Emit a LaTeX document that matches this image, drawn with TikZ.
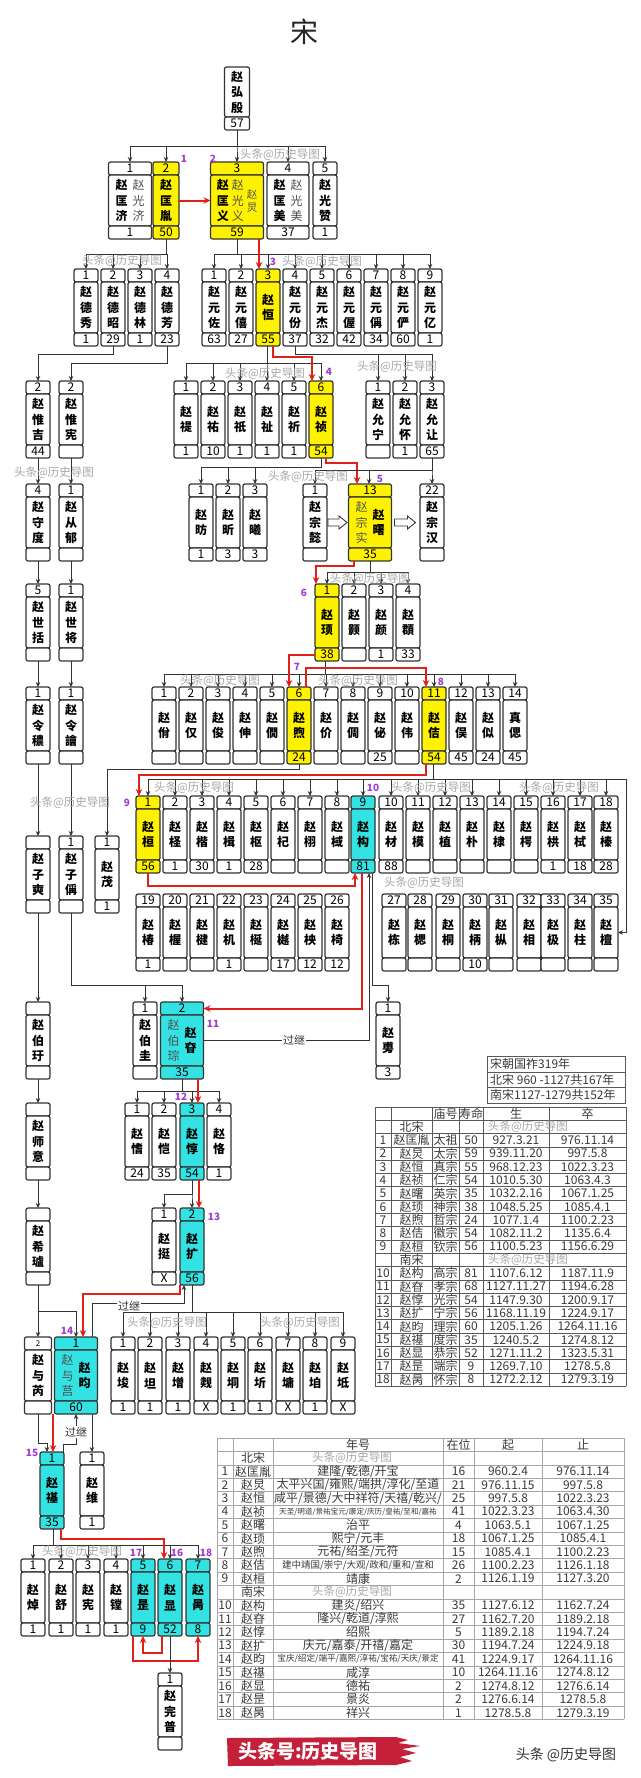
\documentclass[tikz,border=0pt]{standalone}
\usepackage{fontspec}
\setmainfont{Noto Sans CJK SC}
\usetikzlibrary{arrows.meta,calc}
\definecolor{yel}{HTML}{FFF200}
\definecolor{cya}{HTML}{33E3E3}
\definecolor{bd}{HTML}{333333}
\definecolor{rd}{HTML}{E0201B}
\definecolor{pur}{HTML}{A23BD1}
\definecolor{wmk}{HTML}{A8A8A8}
\definecolor{alt}{HTML}{505050}
\definecolor{tcol}{HTML}{3A3A3A}
\definecolor{brush}{HTML}{C4203A}
\makeatletter
\newcommand\vnskip{15.5pt}
\newcommand\vnm[1]{\edef\vnm@tmp{#1}\expandafter\vnm@b\expandafter{\vnm@tmp}}
\newcommand\vnm@b[1]{$\vcenter{\baselineskip=\vnskip\lineskiplimit=-20pt\lineskip=0pt\vnm@a#1\relax}$}
\def\vnm@a#1{\ifx\relax#1\else\hbox{#1}\expandafter\vnm@a\fi}
\makeatother
\newcommand\anm[1]{{\color{alt}\mdseries\vnm{#1}}}
\newcommand\anms[1]{{\color{alt}\mdseries\fontsize{10.5}{12}\selectfont\def\vnskip{13pt}\vnm{#1}}}
\tikzset{
 tbox/.style={draw=bd, line width=1.2pt, rounded corners=2pt, inner sep=0pt, outer sep=0pt, minimum height=13pt, font=\fontsize{12}{14}\selectfont, anchor=north},
 nbox/.style={draw=bd, line width=1.2pt, rounded corners=2pt, inner sep=0pt, outer sep=0pt, minimum height=51pt, font=\fontsize{12}{15.5}\selectfont\bfseries, anchor=north},
 ln/.style={draw=bd, line width=0.9pt, -{Stealth[length=5pt,width=4.5pt]}},
 rl/.style={draw=rd, line width=2pt, -{Stealth[length=7pt,width=6.5pt]}},
 pl/.style={text=pur, font=\fontsize{10}{12}\selectfont\bfseries, inner sep=0pt},
 wm/.style={text=wmk, font=\fontsize{11.5}{12}\selectfont, inner sep=0pt},
 gj/.style={fill=white, inner sep=1pt, font=\fontsize{11}{12}\selectfont, text=bd},
 hol/.style={draw=bd, line width=0.9pt, fill=white},
 tt/.style={text=tcol, font=\fontsize{12}{13}\selectfont, inner sep=0pt},
 g1/.style={draw=black!65, line width=0.7pt},
 g2/.style={draw=black!35, line width=0.6pt},
}
\newcommand\psn[8]{%
 \node[tbox, fill=#5, minimum width=#4pt] (#1-t) at (#2,#3) {#6};
 \node[nbox, fill=#5, minimum width=#4pt] (#1) at (#1-t.south) {#7};
 \node[tbox, fill=#5, minimum width=#4pt] (#1-b) at (#1.south) {#8};}
\newcommand\kids[3]{\foreach \kk in {#3}{\draw[ln] (#1) |- ([yshift=#2pt]\kk-t.north) -- (\kk-t.north);}}
\newcommand\trA[7]{%
 \pgfmathsetmacro\yy{1107+13.3*(#1+0.5)}%
 \node[tt] (ta#2a) at (383,\yy) {#2};
 \node[tt] (ta#2b) at (411.5,\yy) {#3};
 \node[tt] (ta#2c) at (445.5,\yy) {#4};
 \node[tt] (ta#2d) at (471,\yy) {#5};
 \node[tt] (ta#2e) at (516,\yy) {#6};
 \node[tt] (ta#2f) at (587.5,\yy) {#7};}
\newcommand\trB[7]{%
 \pgfmathsetmacro\yy{1438+13.4*(#1+0.5)}%
 \node[tt] (tb#2a) at (225,\yy) {#2};
 \node[tt] (tb#2b) at (253,\yy) {#3};
 \node[tt] (tb#2c) at (358,\yy) {#4};
 \node[tt] (tb#2d) at (458.5,\yy) {#5};
 \node[tt] (tb#2e) at (508,\yy) {#6};
 \node[tt] (tb#2f) at (583,\yy) {#7};}
\begin{document}
\begin{tikzpicture}[x=1pt,y=-1pt]
\useasboundingbox (0,0) rectangle (640,1778);
\fill[white] (0,0) rectangle (640,1778);
\node[inner sep=0pt, font=\fontsize{28}{30}\selectfont, text=black!85] (title) at (304,32) {宋};

% generation 1
\node[nbox, fill=white, minimum width=25pt, minimum height=50pt] (hy) at (237,67) {\vnm{赵弘殷}};
\node[tbox, fill=white, minimum width=25pt] (hy-b) at (hy.south) {57};

% generation 2
\psn{g2a}{130}{162}{43}{white}{1}{\vnm{赵匡济}\hspace{5pt}\anm{赵光济}}{1}
\psn{g2b}{166}{162}{26}{yel}{2}{\vnm{赵匡胤}}{50}
\psn{g2c}{237}{162}{53}{yel}{3}{\vnm{赵匡义}\hspace{3pt}\anm{赵光义}\hspace{3pt}\anms{赵炅}}{59}
\psn{g2d}{288}{162}{42}{white}{4}{\vnm{赵匡美}\hspace{5pt}\anm{赵光美}}{37}
\psn{g2e}{325}{162}{24}{white}{5}{\vnm{赵光赞}}{1}
\kids{hy-b.south}{16}{g2a,g2b,g2c,g2d,g2e}
\draw[rl] (g2b.east) -- (g2c.west);

% generation 3
\psn{dx}{86}{269}{24}{white}{1}{\vnm{赵德秀}}{1}
\psn{dz}{113}{269}{24}{white}{2}{\vnm{赵德昭}}{29}
\psn{dl}{140}{269}{24}{white}{3}{\vnm{赵德林}}{1}
\psn{df}{167}{269}{24}{white}{4}{\vnm{赵德芳}}{23}
\psn{yz}{214}{269}{24}{white}{1}{\vnm{赵元佐}}{63}
\psn{yx}{241}{269}{24}{white}{2}{\vnm{赵元僖}}{27}
\psn{hg}{268}{269}{24}{yel}{3}{\vnm{赵恒}}{55}
\psn{yf}{295}{269}{24}{white}{4}{\vnm{赵元份}}{37}
\psn{yj}{322}{269}{24}{white}{5}{\vnm{赵元杰}}{32}
\psn{yw}{349}{269}{24}{white}{6}{\vnm{赵元偓}}{42}
\psn{yc}{376}{269}{24}{white}{7}{\vnm{赵元偁}}{34}
\psn{yy}{403}{269}{24}{white}{8}{\vnm{赵元俨}}{60}
\psn{yi}{430}{269}{24}{white}{9}{\vnm{赵元亿}}{1}
\kids{g2b-b.south}{15}{dx,dz,dl,df}
\kids{g2c-b.south}{15}{yz,yx,hg,yf,yj,yw,yc,yy,yi}
\draw[rl] ([xshift=22pt]g2c-b.south) -- ([xshift=-9pt]hg-t.north);

% generation 4
\psn{wj}{38}{381}{24}{white}{2}{\vnm{赵惟吉}}{44}
\psn{wx}{71}{381}{24}{white}{2}{\vnm{赵惟宪}}{}
\psn{ti}{186}{381}{24}{white}{1}{\vnm{赵禔}}{1}
\psn{yo}{213}{381}{24}{white}{2}{\vnm{赵祐}}{10}
\psn{qz}{240}{381}{24}{white}{3}{\vnm{赵祇}}{1}
\psn{zhi}{267}{381}{24}{white}{4}{\vnm{赵祉}}{1}
\psn{xq}{294}{381}{24}{white}{5}{\vnm{赵祈}}{1}
\psn{zz}{321}{381}{24}{yel}{6}{\vnm{赵祯}}{54}
\psn{yn}{378}{381}{24}{white}{1}{\vnm{赵允宁}}{}
\psn{yh}{405}{381}{24}{white}{2}{\vnm{赵允怀}}{1}
\psn{yrang}{432}{381}{24}{white}{3}{\vnm{赵允让}}{65}
\draw[ln] (dz-b.south) |- ([yshift=27pt]wj-t.north) -- (wj-t.north);
\draw[ln] (df-b.south) |- ([yshift=18pt]wx-t.north) -- (wx-t.north);
\kids{[xshift=-1pt]hg-b.south}{18}{ti,yo,qz,zhi,xq,zz}
\draw[rl] ([xshift=5pt]hg-b.south) |- ([xshift=-9pt,yshift=24pt]zz-t.north) -- ([xshift=-9pt]zz-t.north);
\kids{yf-b.south}{27}{yn,yh,yrang}

% generation 5
\psn{sd}{38}{484}{24}{white}{4}{\vnm{赵守度}}{}
\psn{cy}{71}{484}{24}{white}{1}{\vnm{赵从郁}}{}
\psn{fa}{201}{484}{24}{white}{1}{\vnm{赵昉}}{1}
\psn{xin}{228}{484}{24}{white}{2}{\vnm{赵昕}}{3}
\psn{xx}{255}{484}{24}{white}{3}{\vnm{赵曦}}{3}
\psn{zy}{315}{484}{24}{white}{1}{\vnm{赵宗懿}}{}
\psn{shu}{370}{484}{43}{yel}{13}{\anm{赵宗实}\hspace{5pt}\vnm{赵曙}}{35}
\psn{zh}{432}{484}{24}{white}{22}{\vnm{赵宗汉}}{}
\draw[ln] (wj-b.south) -- (sd-t.north);
\draw[ln] (wx-b.south) -- (cy-t.north);
\kids{zz-b.south}{17}{fa,xin,xx}
\draw[rl] ([xshift=5pt]zz-b.south) |- ([xshift=-13pt,yshift=21pt]shu-t.north) -- ([xshift=-13pt]shu-t.north);
\kids{yrang-b.south}{14}{zy,zh}
\draw[ln] (yrang-b.south) |- ([xshift=-1pt,yshift=14pt]shu-t.north) -- ([xshift=-1pt]shu-t.north);
\draw[hol] ($(zy.east)+(1,-3.5)$) -- ++(11,0) -- ++(0,-3) -- ++(8,6.5) -- ++(-8,6.5) -- ++(0,-3) -- ++(-11,0) -- cycle;
\draw[hol] ($(shu.east)+(3,-3.5)$) -- ++(13,0) -- ++(0,-3) -- ++(8,6.5) -- ++(-8,6.5) -- ++(0,-3) -- ++(-13,0) -- cycle;

% generation 6
\psn{sk}{38}{584}{24}{white}{5}{\vnm{赵世括}}{}
\psn{sj}{71}{584}{24}{white}{1}{\vnm{赵世将}}{}
\psn{xs}{327}{584}{24}{yel}{1}{\vnm{赵顼}}{38}
\psn{hao}{354}{584}{24}{white}{2}{\vnm{赵颢}}{}
\psn{yan}{381}{584}{24}{white}{3}{\vnm{赵颜}}{1}
\psn{jun}{408}{584}{24}{white}{4}{\vnm{赵頵}}{33}
\draw[ln] (sd-b.south) -- (sk-t.north);
\draw[ln] (cy-b.south) -- (sj-t.north);
\kids{shu-b.south}{12}{xs,hao,yan,jun}
\draw[rl] ([xshift=-16pt]shu-b.south) |- ([xshift=-11pt,yshift=18pt]xs-t.north) -- ([xshift=-11pt]xs-t.north);

% generation 7
\psn{la}{38}{687}{24}{white}{1}{\vnm{赵令穠}}{}
\psn{lb}{71}{687}{24}{white}{1}{\vnm{赵令譮}}{}
\psn{p1}{164}{687}{24}{white}{1}{\vnm{赵佾}}{}
\psn{p2}{191}{687}{24}{white}{2}{\vnm{赵仅}}{}
\psn{p3}{218}{687}{24}{white}{3}{\vnm{赵俊}}{}
\psn{p4}{245}{687}{24}{white}{4}{\vnm{赵伸}}{}
\psn{p5}{272}{687}{24}{white}{5}{\vnm{赵僩}}{}
\psn{xu}{299}{687}{24}{yel}{6}{\vnm{赵煦}}{24}
\psn{p7}{326}{687}{24}{white}{7}{\vnm{赵价}}{}
\psn{p8}{353}{687}{24}{white}{8}{\vnm{赵倜}}{}
\psn{p9}{380}{687}{24}{white}{9}{\vnm{赵佖}}{25}
\psn{p10}{407}{687}{24}{white}{10}{\vnm{赵伟}}{}
\psn{ji}{434}{687}{24}{yel}{11}{\vnm{赵佶}}{54}
\psn{p12}{461}{687}{24}{white}{12}{\vnm{赵俣}}{45}
\psn{p13}{488}{687}{24}{white}{13}{\vnm{赵似}}{24}
\psn{p14}{515}{687}{24}{white}{14}{\vnm{真偲}}{45}
\draw[ln] (sk-b.south) -- (la-t.north);
\draw[ln] (sj-b.south) -- (lb-t.north);
\kids{[xshift=-2pt]xs-b.south}{13}{p1,p2,p3,p4,p5,xu,p7,p8,p9,p10,ji,p12,p13,p14}
\draw[rl] (xs-b.west) -| ([xshift=-10pt]xu-t.north);
\draw[rl] ([xshift=7pt]xu-t.north) -- ++(0,-19) -| ([xshift=-8pt]ji-t.north);

% generation 8 left
\psn{zs}{38}{836}{24}{white}{}{\vnm{赵子奭}}{}
\psn{zc}{71}{836}{24}{white}{1}{\vnm{赵子偁}}{}
\psn{mao}{107}{836}{24}{white}{1}{\vnm{赵茂}}{1}
\draw[ln] (la-b.south) -- (zs-t.north);
\draw[ln] (lb-b.south) -- (zc-t.north);
\draw[ln] (xu-b.south) |- ([yshift=67pt]mao-t.north) -- (mao-t.north);

% generation 8 row 1
\psn{huan}{148}{796}{24}{yel}{1}{\vnm{赵桓}}{56}
\psn{q2}{175}{796}{24}{white}{2}{\vnm{赵柽}}{1}
\psn{q3}{202}{796}{24}{white}{3}{\vnm{赵楷}}{30}
\psn{q4}{229}{796}{24}{white}{4}{\vnm{赵楫}}{1}
\psn{q5}{256}{796}{24}{white}{5}{\vnm{赵枢}}{28}
\psn{q6}{283}{796}{24}{white}{6}{\vnm{赵杞}}{}
\psn{q7}{310}{796}{24}{white}{7}{\vnm{赵栩}}{}
\psn{q8}{337}{796}{24}{white}{8}{\vnm{赵棫}}{}
\psn{gou}{363}{796}{24}{cya}{9}{\vnm{赵构}}{81}
\psn{q10}{391}{796}{24}{white}{10}{\vnm{赵材}}{88}
\psn{q11}{418}{796}{24}{white}{11}{\vnm{赵模}}{}
\psn{q12}{445}{796}{24}{white}{12}{\vnm{赵植}}{}
\psn{q13}{472}{796}{24}{white}{13}{\vnm{赵朴}}{}
\psn{q14}{499}{796}{24}{white}{14}{\vnm{赵棣}}{}
\psn{q15}{526}{796}{24}{white}{15}{\vnm{赵㮙}}{}
\psn{q16}{553}{796}{24}{white}{16}{\vnm{赵栱}}{1}
\psn{q17}{580}{796}{24}{white}{17}{\vnm{赵栻}}{18}
\psn{q18}{606}{796}{24}{white}{18}{\vnm{赵榛}}{28}
% generation 8 row 2
\psn{s19}{148}{894}{24}{white}{19}{\vnm{赵椿}}{1}
\psn{s20}{175}{894}{24}{white}{20}{\vnm{赵楃}}{}
\psn{s21}{202}{894}{24}{white}{21}{\vnm{赵楗}}{}
\psn{s22}{229}{894}{24}{white}{22}{\vnm{赵机}}{1}
\psn{s23}{256}{894}{24}{white}{23}{\vnm{赵梴}}{}
\psn{s24}{283}{894}{24}{white}{24}{\vnm{赵樾}}{17}
\psn{s25}{310}{894}{24}{white}{25}{\vnm{赵柍}}{12}
\psn{s26}{337}{894}{24}{white}{26}{\vnm{赵椅}}{12}
\psn{s27}{394}{894}{24}{white}{27}{\vnm{赵栋}}{}
\psn{s28}{420}{894}{24}{white}{28}{\vnm{赵楒}}{}
\psn{s29}{448}{894}{24}{white}{29}{\vnm{赵桐}}{}
\psn{s30}{475}{894}{24}{white}{30}{\vnm{赵柄}}{10}
\psn{s31}{501}{894}{24}{white}{31}{\vnm{赵枞}}{}
\psn{s32}{529}{894}{24}{white}{32}{\vnm{赵相}}{}
\psn{s33}{553}{894}{24}{white}{33}{\vnm{赵极}}{}
\psn{s34}{580}{894}{24}{white}{34}{\vnm{赵柱}}{}
\psn{s35}{606}{894}{24}{white}{35}{\vnm{赵檀}}{}
\kids{[xshift=-1pt]ji-b.south}{17}{huan,q2,q3,q4,q5,q6,q7,q8,gou,q10,q11,q12,q13,q14,q15,q16,q17,q18}
\coordinate (rt) at (626,779);
\draw[ln] ([xshift=-1pt]ji-b.south) |- (rt) |- (s35.east);
\draw[rl] ([xshift=-8pt]ji-b.south) |- ([xshift=-9pt,yshift=21pt]huan-t.north) -- ([xshift=-9pt]huan-t.north);
\draw[rl] (huan-b.south) |- ([xshift=-8pt,yshift=-13pt]gou-b.south) -- ([xshift=-8pt]gou-b.south);

% generation 9
\psn{by}{38}{1002}{24}{white}{}{\vnm{赵伯玗}}{}
\psn{bg}{145}{1002}{24}{white}{1}{\vnm{赵伯圭}}{}
\psn{shen}{182}{1002}{43}{cya}{2}{\anm{赵伯琮}\hspace{5pt}\vnm{赵昚}}{35}
\psn{fu}{388}{1002}{24}{white}{1}{\vnm{赵旉}}{3}
\draw[ln] (zs-b.south) -- (by-t.north);
\kids{zc-b.south}{17}{bg,shen}
\draw[rl] ([xshift=-1pt]gou-b.south) |- (shen-t.east);
\draw[ln] (shen.east) -| ([xshift=6pt]gou-b.south);
\node[gj] (gj1) at (294,1040) {过继};
\draw[ln] ([xshift=9pt]gou-b.south) |- ([yshift=17pt]fu-t.north) -- (fu-t.north);

% generation 10
\psn{sy}{38}{1103}{24}{white}{}{\vnm{赵师意}}{}
\psn{qa}{137}{1103}{24}{white}{1}{\vnm{赵愭}}{24}
\psn{kai}{164}{1103}{24}{white}{2}{\vnm{赵恺}}{35}
\psn{dun}{192}{1103}{24}{cya}{3}{\vnm{赵惇}}{54}
\psn{ke}{219}{1103}{24}{white}{4}{\vnm{赵恪}}{1}
\draw[ln] (by-b.south) -- (sy-t.north);
\kids{shen-b.south}{12}{qa,kai,dun,ke}
\draw[rl] ([xshift=16pt]shen-b.south) -- ([xshift=6pt]dun-t.north);

% generation 11
\psn{xl}{38}{1208}{24}{white}{}{\vnm{赵希瓐}}{}
\psn{ting}{164}{1208}{24}{white}{1}{\vnm{赵挺}}{X}
\psn{kuo}{192}{1208}{24}{cya}{2}{\vnm{赵扩}}{56}
\draw[ln] (sy-b.south) -- (xl-t.north);
\kids{dun-b.south}{14}{ting,kuo}
\draw[rl] ([xshift=7pt]dun-b.south) -- ([xshift=7pt]kuo-t.north);

% generation 12
\psn{yru}{38}{1337}{27}{white}{\footnotesize 2}{\vnm{赵与芮}}{}
\psn{yun}{76}{1337}{43}{cya}{1}{\anm{赵与莒}\hspace{5pt}\vnm{赵昀}}{60}
\psn{k1}{123}{1337}{24}{white}{1}{\vnm{赵埈}}{1}
\psn{k2}{150}{1337}{24}{white}{2}{\vnm{赵坦}}{1}
\psn{k3}{178}{1337}{24}{white}{3}{\vnm{赵增}}{1}
\psn{k4}{206}{1337}{24}{white}{4}{\vnm{赵觌}}{X}
\psn{k5}{233}{1337}{24}{white}{5}{\vnm{赵垌}}{1}
\psn{k6}{260}{1337}{24}{white}{6}{\vnm{赵圻}}{1}
\psn{k7}{288}{1337}{24}{white}{7}{\vnm{赵墉}}{X}
\psn{k8}{315}{1337}{24}{white}{8}{\vnm{赵垍}}{1}
\psn{k9}{343}{1337}{24}{white}{9}{\vnm{赵坻}}{X}
\kids{kuo-b.south}{25}{k1,k2,k3,k4,k5,k6,k7,k8,k9}
\draw[ln] (xl-b.south) -- (yru-t.north);
\draw[ln] (xl-b.south) |- ([yshift=26pt]yun-t.north) -- (yun-t.north);
\draw[ln] ([xshift=16pt]yun-t.north) -- ++(0,-34) -| ([xshift=-8pt]kuo-b.south);
\node[gj] (gj2) at (129,1306) {过继};
\draw[rl] ([xshift=-12pt]kuo-b.south) |- ([xshift=7pt,yshift=43pt]yun-t.north) -- ([xshift=7pt]yun-t.north);

% generation 13
\psn{qi}{52}{1452}{24}{cya}{1}{\vnm{赵禥}}{35}
\psn{wei}{92}{1452}{24}{white}{1}{\vnm{赵维}}{1}
\draw[ln] (yru-b.south) |- ([xshift=-5pt,yshift=9pt]qi-t.north) -- ([xshift=-5pt]qi-t.north);
\draw[rl] ([xshift=-23pt]yun-b.south) -- ([xshift=1pt]qi-t.north);
\draw[ln] ([xshift=11pt]qi-t.north) |- ([yshift=-30pt]yun-b.south) -- (yun-b.south);
\node[gj] (gj3) at (76,1432) {过继};
\draw[ln] ([xshift=16pt]yun-b.south) -- (wei-t.north);

% generation 14
\psn{z1}{33}{1559}{24}{white}{1}{\vnm{赵焯}}{1}
\psn{z2}{61}{1559}{24}{white}{2}{\vnm{赵舒}}{1}
\psn{z3}{88}{1559}{24}{white}{3}{\vnm{赵宪}}{1}
\psn{z4}{116}{1559}{24}{white}{4}{\vnm{赵镗}}{1}
\psn{shi}{143}{1559}{24}{cya}{5}{\vnm{赵昰}}{9}
\psn{xian}{170}{1559}{24}{cya}{6}{\vnm{赵显}}{52}
\psn{bing}{198}{1559}{24}{cya}{7}{\vnm{赵昺}}{8}
\kids{[xshift=1pt]qi-b.south}{14}{z1,z2,z3,z4,shi,xian,bing}
\draw[rl] ([xshift=9pt]qi-b.south) |- ([xshift=-6pt,yshift=20pt]xian-t.north) -- ([xshift=-6pt]xian-t.north);
\draw[rl] ([xshift=-8pt]xian-b.south) -- ++(0,17) -| (shi-b.south);
\draw[rl] ([xshift=-10pt]shi-b.south) -- ++(0,25) -| (bing-b.south);

% generation 15
\psn{wp}{170}{1673}{24}{white}{1}{\vnm{赵完普}}{}
\draw[ln] (xian-b.south) -- (wp-t.north);

% succession numbers
\node[pl] (n1) at (184,159) {1};
\node[pl] (n2) at (213,159) {2};
\node[pl] (n3) at (273,262) {3};
\node[pl] (n4) at (329,372) {4};
\node[pl] (n5) at (380,479) {5};
\node[pl] (n6) at (304,593) {6};
\node[pl] (n7) at (297,667) {7};
\node[pl] (n8) at (441,682) {8};
\node[pl] (n9) at (127,803) {9};
\node[pl] (n10) at (373,788) {10};
\node[pl] (n11) at (213,1024) {11};
\node[pl] (n12) at (181,1097) {12};
\node[pl] (n13) at (214,1217) {13};
\node[pl] (n14) at (67,1331) {14};
\node[pl] (n15) at (32,1453) {15};
\node[pl] (n16) at (177,1553) {16};
\node[pl] (n17) at (136,1553) {17};
\node[pl] (n18) at (206,1553) {18};

% watermarks
\node[wm] (w1) at (280,155) {头条@历史导图};
\node[wm] (w2) at (122,261) {头条@历史导图};
\node[wm] (w3) at (322,262) {头条@历史导图};
\node[wm] (w4) at (265,374) {头条@历史导图};
\node[wm] (w5) at (397,367) {头条@历史导图};
\node[wm] (w6) at (54,473) {头条@历史导图};
\node[wm] (w7) at (308,477) {头条@历史导图};
\node[wm] (w8) at (370,579) {头条@历史导图};
\node[wm] (w9) at (220,681) {头条@历史导图};
\node[wm] (w10) at (358,681) {头条@历史导图};
\node[wm] (w11) at (194,788) {头条@历史导图};
\node[wm] (w12) at (431,788) {头条@历史导图};
\node[wm] (w13) at (559,788) {头条@历史导图};
\node[wm] (w14) at (70,803) {头条@历史导图};
\node[wm] (w15) at (424,883) {头条@历史导图};
\node[wm] (w16) at (167,1323) {头条@历史导图};
\node[wm] (w17) at (300,1323) {头条@历史导图};
\node[wm] (w18) at (82,1552) {头条@历史导图};

% table 1
\draw[g1] (487,1056) rectangle (625,1103);
\draw[g1] (487,1072) -- (625,1072);
\draw[g1] (487,1087) -- (625,1087);
\node[tt, anchor=west] (i1) at (490,1064) {宋朝国祚319年};
\node[tt, anchor=west] (i2) at (490,1079.5) {北宋 960 -1127共167年};
\node[tt, anchor=west] (i3) at (490,1095) {南宋1127-1279共152年};
\foreach \j in {0,...,21} {\draw[g1] (375,{1107+13.3*\j}) -- (626,{1107+13.3*\j});}
\foreach \cc in {375,391,432,459,483,549,626} {\draw[g1] (\cc,1107) -- (\cc,1386.3);}
\node[tt] (tah1) at (445.5,1113.6) {庙号};
\node[tt] (tah2) at (471,1113.6) {寿命};
\node[tt] (tah3) at (516,1113.6) {生};
\node[tt] (tah4) at (587.5,1113.6) {卒};
\node[tt] (tabs) at (411.5,1127) {北宋};
\node[wm] (tabw) at (528,1127) {头条@历史导图};
\node[tt] (tans) at (411.5,1260.0) {南宋};
\node[wm] (tanw) at (528,1260.0) {头条@历史导图};
\trA{2}{1}{赵匡胤}{太祖}{50}{927.3.21}{976.11.14}
\trA{3}{2}{赵炅}{太宗}{59}{939.11.20}{997.5.8}
\trA{4}{3}{赵恒}{真宗}{55}{968.12.23}{1022.3.23}
\trA{5}{4}{赵祯}{仁宗}{54}{1010.5.30}{1063.4.3}
\trA{6}{5}{赵曙}{英宗}{35}{1032.2.16}{1067.1.25}
\trA{7}{6}{赵顼}{神宗}{38}{1048.5.25}{1085.4.1}
\trA{8}{7}{赵煦}{哲宗}{24}{1077.1.4}{1100.2.23}
\trA{9}{8}{赵佶}{徽宗}{54}{1082.11.2}{1135.6.4}
\trA{10}{9}{赵桓}{钦宗}{56}{1100.5.23}{1156.6.29}
\trA{12}{10}{赵构}{高宗}{81}{1107.6.12}{1187.11.9}
\trA{13}{11}{赵昚}{孝宗}{68}{1127.11.27}{1194.6.28}
\trA{14}{12}{赵惇}{光宗}{54}{1147.9.30}{1200.9.17}
\trA{15}{13}{赵扩}{宁宗}{56}{1168.11.19}{1224.9.17}
\trA{16}{14}{赵昀}{理宗}{60}{1205.1.26}{1264.11.16}
\trA{17}{15}{赵禥}{度宗}{35}{1240.5.2}{1274.8.12}
\trA{18}{16}{赵显}{恭宗}{52}{1271.11.2}{1323.5.31}
\trA{19}{17}{赵昰}{端宗}{9}{1269.7.10}{1278.5.8}
\trA{20}{18}{赵昺}{怀宗}{8}{1272.2.12}{1279.3.19}

% table 2
\foreach \j in {0,...,21} {\draw[g2] (217,{1438+13.4*\j}) -- (624,{1438+13.4*\j});}
\foreach \cc in {217,233,273,443,474,542,624} {\draw[g2] (\cc,1438) -- (\cc,1719.4);}
\node[tt] (tbh1) at (358,1444.7) {年号};
\node[tt] (tbh2) at (458.5,1444.7) {在位};
\node[tt] (tbh3) at (508,1444.7) {起};
\node[tt] (tbh4) at (583,1444.7) {止};
\node[tt] (tbbs) at (253,1458.1) {北宋};
\node[wm] (tbbw) at (352,1458.1) {头条@历史导图};
\node[tt] (tbns) at (253,1592.1) {南宋};
\node[wm] (tbnw) at (352,1592.1) {头条@历史导图};
\trB{2}{1}{赵匡胤}{建隆/乾德/开宝}{16}{960.2.4}{976.11.14}
\trB{3}{2}{赵炅}{太平兴国/雍熙/端拱/淳化/至道}{21}{976.11.15}{997.5.8}
\trB{4}{3}{赵恒}{咸平/景德/大中祥符/天禧/乾兴/}{25}{997.5.8}{1022.3.23}
\trB{5}{4}{赵祯}{\fontsize{7.6}{8}\selectfont 天圣/明道/景祐宝元/康定/庆历/皇祐/至和/嘉祐}{41}{1022.3.23}{1063.4.30}
\trB{6}{5}{赵曙}{治平}{4}{1063.5.1}{1067.1.25}
\trB{7}{6}{赵顼}{熙宁/元丰}{18}{1067.1.25}{1085.4.1}
\trB{8}{7}{赵煦}{元祐/绍圣/元符}{15}{1085.4.1}{1100.2.23}
\trB{9}{8}{赵佶}{\fontsize{9.5}{10}\selectfont 建中靖国/崇宁/大观/政和/重和/宣和}{26}{1100.2.23}{1126.1.18}
\trB{10}{9}{赵桓}{靖康}{2}{1126.1.19}{1127.3.20}
\trB{12}{10}{赵构}{建炎/绍兴}{35}{1127.6.12}{1162.7.24}
\trB{13}{11}{赵昚}{隆兴/乾道/淳熙}{27}{1162.7.20}{1189.2.18}
\trB{14}{12}{赵惇}{绍熙}{5}{1189.2.18}{1194.7.24}
\trB{15}{13}{赵扩}{庆元/嘉泰/开禧/嘉定}{30}{1194.7.24}{1224.9.18}
\trB{16}{14}{赵昀}{\fontsize{8.6}{9}\selectfont 宝庆/绍定/端平/嘉熙/淳祐/宝祐/天庆/景定}{41}{1224.9.17}{1264.11.16}
\trB{17}{15}{赵禥}{咸淳}{10}{1264.11.16}{1274.8.12}
\trB{18}{16}{赵显}{德祐}{2}{1274.8.12}{1276.6.14}
\trB{19}{17}{赵昰}{景炎}{2}{1276.6.14}{1278.5.8}
\trB{20}{18}{赵昺}{祥兴}{1}{1278.5.8}{1279.3.19}

% footer
\fill[brush] (227,1738) -- (396,1737) -- (408,1740) -- (398,1743) -- (420,1746) -- (402,1749) -- (416,1753) -- (400,1757) -- (412,1761) -- (396,1765) -- (228,1766) -- cycle;
\node[inner sep=0pt, text=white, font=\fontsize{19}{20}\selectfont\bfseries] (bnr) at (308,1751) {头条号:历史导图};
\node[inner sep=0pt, text=black!80, font=\fontsize{14}{15}\selectfont] (wmr) at (566,1755) {头条 @历史导图};
\end{tikzpicture}
\end{document}
